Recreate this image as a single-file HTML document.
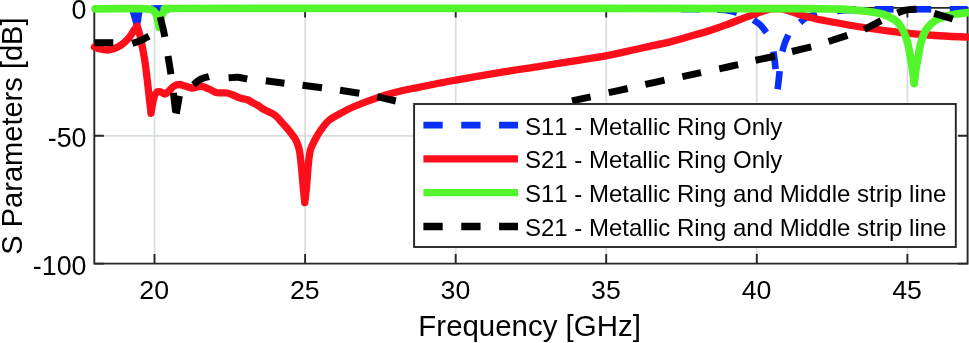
<!DOCTYPE html>
<html><head><meta charset="utf-8"><title>S Parameters</title>
<style>
html,body{margin:0;padding:0;background:#fff;}
body{width:969px;height:343px;overflow:hidden;}
svg{display:block;will-change:transform;}
text{font-family:"Liberation Sans",sans-serif;fill:#000;font-kerning:none;font-feature-settings:"kern" 0,"liga" 0;}
</style></head><body>
<svg width="969" height="343" viewBox="0 0 969 343">
<rect width="969" height="343" fill="#fff"/>
<g fill="none"><path d="M154.5 7.9V263.6" stroke="#d6dfdd" stroke-width="1.7"/><path d="M305.1 7.9V263.6" stroke="#d6dfdd" stroke-width="1.7"/><path d="M455.7 7.9V263.6" stroke="#d6dfdd" stroke-width="1.7"/><path d="M606.2 7.9V263.6" stroke="#d6dfdd" stroke-width="1.7"/><path d="M756.8 7.9V263.6" stroke="#d6dfdd" stroke-width="1.7"/><path d="M907.4 7.9V263.6" stroke="#d6dfdd" stroke-width="1.7"/><path d="M94.3 135.8H967.6" stroke="#d6dfdd" stroke-width="1.7"/></g>
<path d="M94.3 7.9H967.6V263.6H94.3Z" stroke="#262626" stroke-width="1.9" fill="none"/><path d="M154.5 263.6v-9.6M154.5 7.9v9.6M305.1 263.6v-9.6M305.1 7.9v9.6M455.7 263.6v-9.6M455.7 7.9v9.6M606.2 263.6v-9.6M606.2 7.9v9.6M756.8 263.6v-9.6M756.8 7.9v9.6M907.4 263.6v-9.6M907.4 7.9v9.6M94.3 135.8h9.6M967.6 135.8h-9.6M94.3 263.6h9.6M967.6 263.6h-9.6" stroke="#262626" stroke-width="1.9" fill="none"/>
<g stroke-linecap="butt" stroke-linejoin="round"><path d="M94.3 8.6L98.1 8.6" stroke="#0930FB" stroke-width="6.6" fill="none"/><path d="M116.7 8.6L135.7 8.6" stroke="#0930FB" stroke-width="6.6" fill="none"/><path d="M154.3 8.6L173.3 8.6" stroke="#0930FB" stroke-width="6.6" fill="none"/><path d="M191.9 8.6L210.9 8.6" stroke="#0930FB" stroke-width="6.6" fill="none"/><path d="M229.5 8.6L248.5 8.6" stroke="#0930FB" stroke-width="6.6" fill="none"/><path d="M267.1 8.6L286.1 8.6" stroke="#0930FB" stroke-width="6.6" fill="none"/><path d="M304.7 8.6L323.7 8.6" stroke="#0930FB" stroke-width="6.6" fill="none"/><path d="M342.3 8.6L361.3 8.6" stroke="#0930FB" stroke-width="6.6" fill="none"/><path d="M379.9 8.6L398.9 8.6" stroke="#0930FB" stroke-width="6.6" fill="none"/><path d="M417.5 8.6L436.5 8.6" stroke="#0930FB" stroke-width="6.6" fill="none"/><path d="M455.1 8.6L474.1 8.6" stroke="#0930FB" stroke-width="6.6" fill="none"/><path d="M492.7 8.6L511.7 8.6" stroke="#0930FB" stroke-width="6.6" fill="none"/><path d="M530.3 8.6L549.3 8.6" stroke="#0930FB" stroke-width="6.6" fill="none"/><path d="M567.9 8.6L586.9 8.6" stroke="#0930FB" stroke-width="6.6" fill="none"/><path d="M605.5 8.6L624.5 8.6" stroke="#0930FB" stroke-width="6.6" fill="none"/><path d="M643.1 8.6L662.1 8.6" stroke="#0930FB" stroke-width="6.6" fill="none"/><path d="M680.7 9.2L699.7 9.2" stroke="#0930FB" stroke-width="6.6" fill="none"/><path d="M718.3 9.2L737.3 9.2" stroke="#0930FB" stroke-width="6.6" fill="none"/><path d="M837.0 9.3L856.0 9.3" stroke="#0930FB" stroke-width="6.6" fill="none"/><path d="M874.6 9.3L893.6 9.3" stroke="#0930FB" stroke-width="6.6" fill="none"/><path d="M912.2 9.3L931.2 9.3" stroke="#0930FB" stroke-width="6.6" fill="none"/><path d="M949.8 9.3L967.6 9.3" stroke="#0930FB" stroke-width="6.6" fill="none"/><path d="M128.6 8L143 8L141 22L138.5 30L135 30L132.6 22Z" fill="#0930FB"/><path d="M151.0 8.9L170.0 8.9" stroke="#0930FB" stroke-width="7.2" fill="none"/><path d="M717.5 9.6C719.2 9.8 724.8 10.0 728.0 10.5C731.2 11.0 735.5 12.2 737.0 12.6" stroke="#0930FB" stroke-width="6.6" fill="none"/><path d="M753.5 20.0C754.2 20.5 756.5 21.8 758.0 23.0C759.5 24.2 761.1 25.7 762.5 27.3C763.9 28.9 765.8 31.6 766.5 32.5" stroke="#0930FB" stroke-width="6.6" fill="none"/><path d="M773.4 51.5C773.6 52.9 774.2 57.1 774.6 60.0C775.0 62.9 775.4 67.6 775.6 69.1" stroke="#0930FB" stroke-width="6.6" fill="none"/><path d="M777.6 89.2C777.8 87.7 778.4 83.0 778.7 80.0C779.0 77.0 779.5 72.6 779.6 71.1" stroke="#0930FB" stroke-width="6.6" fill="none"/><path d="M782.3 51.5C782.8 50.0 784.0 45.3 785.0 42.5C786.0 39.7 787.8 36.1 788.4 34.8" stroke="#0930FB" stroke-width="6.6" fill="none"/><path d="M800.0 22.5C800.8 21.8 803.2 19.6 805.0 18.5C806.8 17.4 809.0 16.6 811.0 15.8C813.0 15.1 816.0 14.3 817.0 14.0" stroke="#0930FB" stroke-width="6.6" fill="none"/><path d="M837.0 11.2C838.5 11.0 843.0 10.5 846.0 10.3C849.0 10.1 853.5 9.9 855.0 9.8" stroke="#0930FB" stroke-width="6.6" fill="none"/></g>
<path d="M94.3 47.1C95.2 47.4 97.8 48.5 100.0 49.0C102.2 49.5 105.3 50.0 107.5 50.0C109.7 50.0 111.0 49.6 113.0 49.0C115.0 48.4 117.4 47.3 119.2 46.3C121.0 45.3 122.5 44.0 124.0 42.8C125.5 41.6 126.7 40.3 127.9 39.0C129.1 37.7 130.0 36.4 131.0 35.0C132.0 33.6 132.8 32.0 133.8 30.5C134.8 29.0 136.6 26.8 137.2 26.0L137.2 26.0C137.7 27.8 139.3 32.6 140.3 36.9C141.3 41.1 142.3 46.9 143.2 51.5C144.0 56.1 144.6 58.5 145.4 64.6C146.2 70.7 147.3 79.9 148.2 88.0C149.1 96.1 150.5 109.2 151.0 113.4L151.0 113.4C151.5 110.8 152.8 101.6 153.8 98.0C154.8 94.4 155.8 93.0 157.0 92.0C158.2 91.0 159.7 91.7 161.0 92.0C162.3 92.3 163.7 94.2 165.0 94.0C166.3 93.8 167.5 92.3 169.0 91.0C170.5 89.7 172.2 87.1 174.0 86.0C175.8 84.9 177.7 84.5 179.5 84.5C181.3 84.5 182.9 85.4 185.0 86.0C187.1 86.6 189.8 87.8 191.8 88.0C193.8 88.2 195.3 87.3 197.0 87.0C198.7 86.7 200.0 86.0 202.0 86.3C204.0 86.6 206.7 88.0 209.0 89.0C211.3 90.0 214.0 91.9 216.0 92.5C218.0 93.1 219.2 92.7 221.0 92.8C222.8 92.9 225.0 92.6 227.0 93.0C229.0 93.4 231.0 94.2 233.0 95.0C235.0 95.8 237.4 97.1 239.0 97.7C240.6 98.3 240.9 98.2 242.4 98.6C243.9 99.0 246.3 99.3 248.0 100.0C249.7 100.7 251.1 101.9 252.8 102.8C254.5 103.7 256.3 104.5 258.0 105.5C259.7 106.5 261.4 108.0 263.1 109.0C264.8 110.0 266.3 110.6 268.0 111.5C269.7 112.4 271.8 113.1 273.5 114.2C275.2 115.3 276.6 116.6 278.0 118.0C279.4 119.4 280.5 120.9 281.8 122.4C283.1 123.9 284.6 125.4 286.0 127.0C287.4 128.6 288.8 130.2 290.0 131.8C291.2 133.4 292.4 135.0 293.5 136.5C294.6 138.0 295.3 138.7 296.3 141.0C297.3 143.3 298.6 146.4 299.4 150.4C300.2 154.4 300.5 158.7 301.2 165.0C301.9 171.3 302.7 182.0 303.3 188.3C303.9 194.6 304.6 200.2 304.8 202.6L304.8 202.6C305.1 200.2 305.8 194.6 306.4 188.3C307.0 182.0 307.6 171.3 308.3 165.0C309.0 158.7 309.2 154.6 310.3 150.4C311.4 146.2 313.1 143.4 314.9 140.0C316.7 136.6 318.7 133.0 321.1 129.7C323.5 126.4 325.9 122.8 329.4 120.0C332.8 117.2 337.7 114.8 341.8 112.6C345.9 110.3 348.7 108.8 354.2 106.5C359.7 104.2 368.0 101.0 374.9 98.6C381.8 96.2 388.7 94.1 395.6 92.3C402.5 90.5 408.9 89.3 416.3 87.8C423.7 86.2 433.4 84.3 440.0 83.0C446.6 81.7 444.9 82.0 455.8 80.1C466.7 78.2 491.3 74.0 505.3 71.7C519.3 69.4 529.3 68.1 540.0 66.4C550.7 64.7 558.5 63.5 569.5 61.7C580.5 59.9 596.2 57.5 605.8 55.8C615.4 54.1 620.4 52.8 627.0 51.4C633.6 50.0 638.1 48.9 645.3 47.3C652.5 45.7 662.5 43.7 670.0 41.9C677.5 40.1 683.3 38.2 690.0 36.3C696.7 34.4 703.7 32.5 710.0 30.5C716.3 28.5 722.2 26.3 728.0 24.2C733.8 22.1 740.2 19.4 745.0 17.6C749.8 15.8 753.5 14.4 757.0 13.2C760.5 12.0 763.5 11.0 766.0 10.3C768.5 9.6 770.0 9.3 772.0 9.0C774.0 8.7 776.0 8.6 778.0 8.7C780.0 8.8 782.0 8.9 784.0 9.3C786.0 9.7 788.0 10.5 790.0 11.2C792.0 11.9 793.8 12.6 796.0 13.3C798.2 14.0 800.3 14.8 803.0 15.5C805.7 16.2 808.5 17.0 812.0 17.8C815.5 18.6 815.1 18.8 823.8 20.4C832.5 22.0 851.4 25.5 864.0 27.5C876.6 29.5 887.6 31.0 899.4 32.3C911.2 33.6 923.6 34.7 935.0 35.5C946.4 36.3 962.2 36.8 967.6 37.1" stroke="#FC0E1B" stroke-width="7.3" fill="none" stroke-linecap="round" stroke-linejoin="round"/>
<path d="M95.1 8.8C102.6 8.8 130.9 8.6 140.0 8.7C149.1 8.8 147.5 8.8 149.8 9.2C152.1 9.6 152.8 10.0 153.9 11.0C155.0 12.0 155.7 13.3 156.4 15.0C157.1 16.7 157.6 18.9 158.1 21.0C158.6 23.1 159.0 26.2 159.2 27.3L159.2 27.3C159.4 26.2 159.9 23.1 160.3 21.0C160.8 18.9 161.2 16.7 161.9 15.0C162.6 13.3 163.4 12.0 164.4 11.0C165.4 10.0 166.0 9.6 167.9 9.2C169.8 8.8 154.0 8.6 176.0 8.5C198.0 8.4 229.3 8.5 300.0 8.4C370.7 8.4 516.7 8.4 600.0 8.4C683.3 8.5 760.0 8.4 800.0 8.6C840.0 8.7 830.8 8.9 840.0 9.2C849.2 9.5 850.0 9.7 855.0 10.1C860.0 10.5 865.8 11.1 870.0 11.7C874.2 12.3 877.4 12.8 880.5 13.6C883.6 14.4 886.0 15.3 888.4 16.4C890.8 17.5 893.1 18.8 895.0 20.2C896.9 21.6 898.3 23.1 899.7 25.0C901.1 26.9 902.3 28.7 903.6 31.5C904.9 34.3 906.2 37.6 907.4 42.0C908.6 46.4 909.7 53.0 910.6 58.0C911.5 63.0 912.3 67.7 912.9 72.0C913.5 76.3 914.0 81.7 914.2 83.6L914.2 83.6C914.4 81.7 915.0 76.3 915.6 72.0C916.2 67.7 917.0 63.0 917.9 58.0C918.8 53.0 919.8 46.6 921.1 42.0C922.4 37.4 923.8 33.7 925.6 30.5C927.5 27.3 930.1 24.8 932.2 22.8C934.4 20.9 936.0 20.0 938.5 18.8C941.0 17.6 944.1 16.6 947.0 15.8C949.9 15.0 952.6 14.5 956.0 14.0C959.4 13.5 965.7 12.9 967.6 12.7" stroke="#52F62B" stroke-width="7.7" fill="none" stroke-linecap="round" stroke-linejoin="round"/>
<g stroke-linecap="butt" stroke-linejoin="round"><path d="M94.4 42.7C97.6 42.7 110.2 42.7 113.3 42.7" stroke="#000" stroke-width="7.0" fill="none"/><path d="M132.3 43.4C133.8 42.9 138.2 41.7 141.0 40.5C143.8 39.3 147.7 36.8 149.0 36.1" stroke="#000" stroke-width="7.0" fill="none"/><path d="M160.2 17.0C160.6 18.7 161.9 23.7 162.7 27.0C163.5 30.3 164.5 35.2 164.8 36.9" stroke="#000" stroke-width="7.0" fill="none"/><path d="M168.0 56.0C168.2 57.4 168.9 61.5 169.4 64.5C169.9 67.5 170.7 72.6 170.9 74.2" stroke="#000" stroke-width="7.0" fill="none"/><path d="M173.4 92.8L175.7 112.2M176.3 113.6L179.4 95.8" stroke="#000" stroke-width="7.0" fill="none"/><path d="M193.5 84.8C194.2 84.2 196.4 82.0 198.0 80.9C199.6 79.8 201.2 79.0 203.0 78.3C204.8 77.6 208.0 76.9 209.0 76.6" stroke="#000" stroke-width="7.0" fill="none"/><path d="M228.6 77.8C230.2 77.7 234.9 77.0 238.0 77.2C241.1 77.4 245.7 78.8 247.2 79.1" stroke="#000" stroke-width="7.0" fill="none"/><path d="M265.8 80.8C268.9 81.2 281.3 82.8 284.4 83.2" stroke="#000" stroke-width="7.0" fill="none"/><path d="M302.5 85.3C305.8 85.7 318.8 87.4 322.0 87.8" stroke="#000" stroke-width="7.0" fill="none"/><path d="M340.0 90.2C343.2 90.7 356.1 92.8 359.3 93.3" stroke="#000" stroke-width="7.0" fill="none"/><path d="M377.3 96.7C380.4 97.4 392.7 100.3 395.8 101.0" stroke="#000" stroke-width="7.0" fill="none"/><path d="M572.0 100.8C575.1 100.1 587.5 97.5 590.6 96.8" stroke="#000" stroke-width="7.0" fill="none"/><path d="M608.7 92.6C611.9 91.9 624.5 89.2 627.7 88.5" stroke="#000" stroke-width="7.0" fill="none"/><path d="M645.3 84.4C648.5 83.7 661.3 80.9 664.5 80.2" stroke="#000" stroke-width="7.0" fill="none"/><path d="M682.4 76.6C685.5 75.9 697.9 73.3 701.0 72.6" stroke="#000" stroke-width="7.0" fill="none"/><path d="M719.2 68.8C722.4 68.1 735.0 65.4 738.1 64.7" stroke="#000" stroke-width="7.0" fill="none"/><path d="M755.5 60.2C758.8 59.5 771.8 56.9 775.0 56.2" stroke="#000" stroke-width="7.0" fill="none"/><path d="M792.0 51.5C795.2 50.7 808.0 47.6 811.2 46.8" stroke="#000" stroke-width="7.0" fill="none"/><path d="M828.6 41.5C831.7 40.5 844.3 36.4 847.4 35.4" stroke="#000" stroke-width="7.0" fill="none"/><path d="M864.3 29.5C867.1 28.0 878.3 22.1 881.1 20.6" stroke="#000" stroke-width="7.0" fill="none"/><path d="M897.5 13.0C898.4 12.6 901.1 11.4 903.0 10.8C904.9 10.2 906.8 9.9 909.0 9.6C911.2 9.3 915.2 9.3 916.5 9.2" stroke="#000" stroke-width="7.0" fill="none"/><path d="M934.2 13.4C937.3 14.3 949.7 18.1 952.8 19.0" stroke="#000" stroke-width="7.0" fill="none"/></g>
<rect x="414.1" y="104.0" width="541.7" height="143.0" fill="#fff" stroke="#262626" stroke-width="1.9"/>
<path d="M423.4 125.2H518.0" stroke="#0930FB" stroke-width="6.7" stroke-dasharray="19.3 18.55"/><path d="M423.4 158.9H518.0" stroke="#FC0E1B" stroke-width="7.4"/><path d="M423.4 192.6H518.0" stroke="#52F62B" stroke-width="7.4"/><path d="M423.4 226.5H518.0" stroke="#000" stroke-width="7.4" stroke-dasharray="19.3 18.55"/>
<text x="524.9" y="134.5" font-size="24">S11 - Metallic Ring Only</text><text x="524.9" y="168.4" font-size="24">S21 - Metallic Ring Only</text><text x="524.9" y="202.1" font-size="24">S11 - Metallic Ring and Middle strip line</text><text x="524.9" y="236.0" font-size="24">S21 - Metallic Ring and Middle strip line</text>
<text x="154.2" y="298.8" font-size="26.7" text-anchor="middle">20</text><text x="304.8" y="298.8" font-size="26.7" text-anchor="middle">25</text><text x="455.4" y="298.8" font-size="26.7" text-anchor="middle">30</text><text x="605.9" y="298.8" font-size="26.7" text-anchor="middle">35</text><text x="756.5" y="298.8" font-size="26.7" text-anchor="middle">40</text><text x="907.1" y="298.8" font-size="26.7" text-anchor="middle">45</text><text x="86.5" y="19.0" font-size="26.8" text-anchor="end">0</text><text x="86.5" y="146.6" font-size="26.8" text-anchor="end">-50</text><text x="86.5" y="274.5" font-size="26.8" text-anchor="end">-100</text>
<text x="529.6" y="336.4" font-size="29.45" text-anchor="middle">Frequency [GHz]</text>
<text transform="translate(21.7 136.1) rotate(-90)" font-size="29.05" text-anchor="middle">S Parameters [dB]</text>
</svg></body></html>
